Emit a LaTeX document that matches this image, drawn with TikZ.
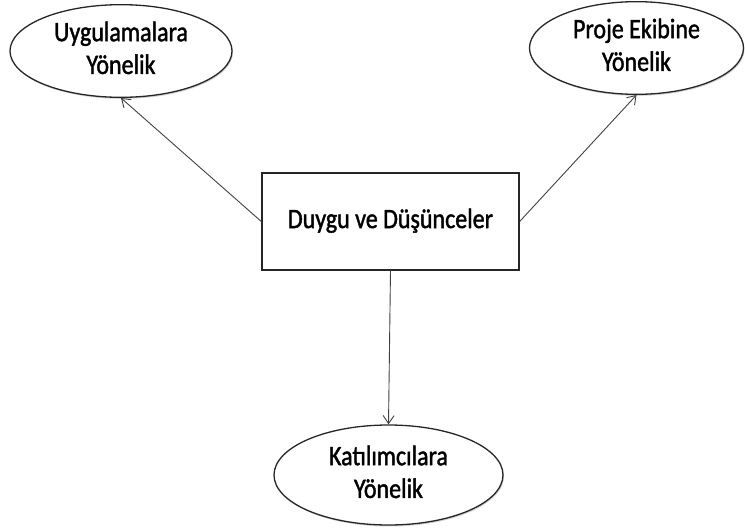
\documentclass[tikz,border=0pt]{standalone}
\usepackage{fontspec}
\setmainfont[FakeBold=1.6]{Carlito}
\usetikzlibrary{arrows.meta,shapes.geometric,shadows}
\newcommand{\txt}[2][-4pt]{\raisebox{#1}{\scalebox{1}[1.17]{\begin{tabular}{@{}c@{}}#2\end{tabular}}}}
\tikzset{
  oval/.style={ellipse, draw=black!85, line width=1.3pt, fill=white, inner sep=0pt,
    font=\fontsize{24}{28}\selectfont,
    drop shadow={shadow xshift=1pt, shadow yshift=-1.5pt, opacity=0.35}},
  mainbox/.style={rectangle, draw=black!85, line width=1.3pt, fill=white, inner sep=0pt,
    minimum width=257pt, minimum height=97pt, font=\fontsize{24}{28}\selectfont,
    drop shadow={shadow xshift=1.2pt, shadow yshift=-1.2pt, opacity=0.35}},
  conn/.style={draw=black!75, line width=0.9pt, -{Straight Barb[length=8pt,width=11pt]}},
}
\begin{document}
\begin{tikzpicture}[x=1pt,y=-1pt]
\useasboundingbox (0,0) rectangle (745,530);
\node[mainbox] (c) at (390.5,221.5) {\txt[-3pt]{Duygu ve Düşünceler}};
\node[oval, minimum width=222pt, minimum height=92pt] (l) at (121,51) {\txt{Uygulamalara\\Yönelik}};
\node[oval, minimum width=214pt, minimum height=90pt] (r) at (636.5,48) {\txt{Proje Ekibine\\Yönelik}};
\node[oval, minimum width=229pt, minimum height=100pt] (b) at (388.5,475) {\txt[-7pt]{Katılımcılara\\Yönelik}};
\draw[conn] (c.west) -- (l.south);
\draw[conn] (c.east) -- (r.south);
\draw[conn] (c.south) -- (b.north);
\end{tikzpicture}
\end{document}
